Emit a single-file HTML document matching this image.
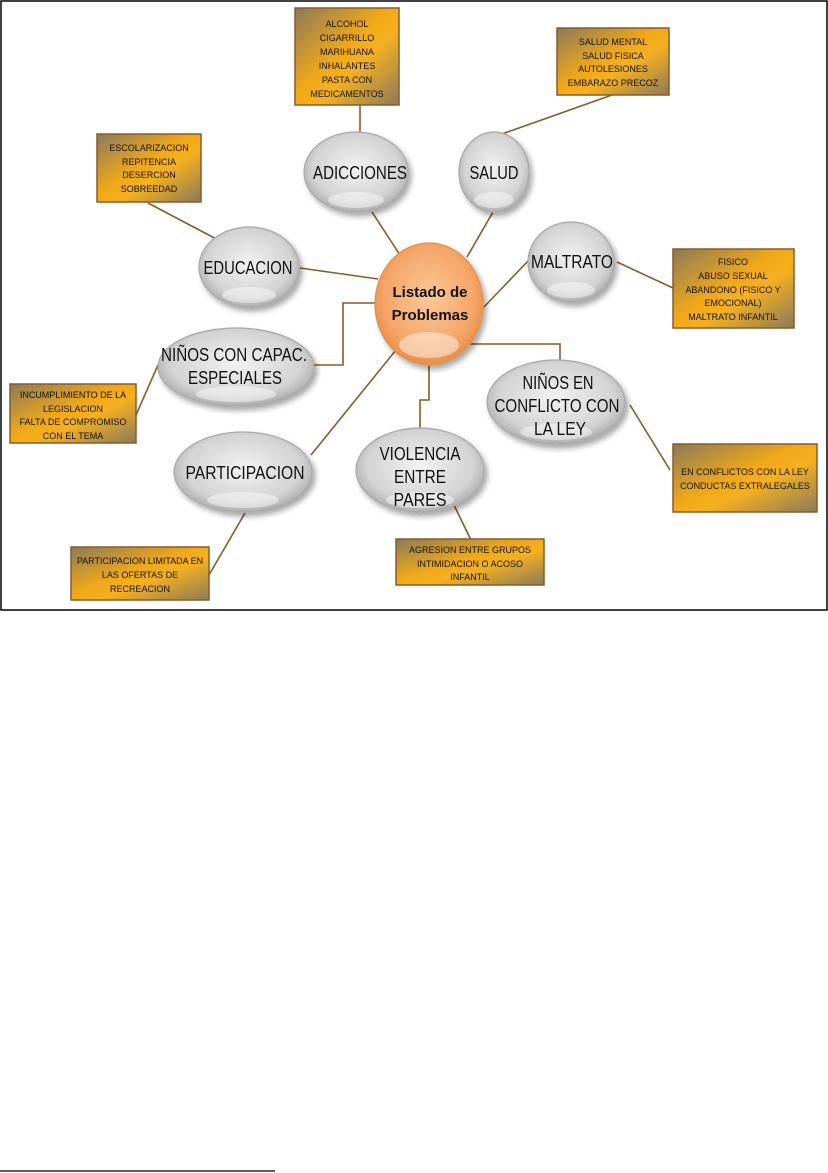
<!DOCTYPE html>
<html><head><meta charset="utf-8"><style>
html,body{margin:0;padding:0;background:#fff;width:828px;height:1173px;overflow:hidden}
svg{display:block}
text{font-family:"Liberation Sans",sans-serif}
</style></head><body>
<svg width="828" height="1173" viewBox="0 0 828 1173" xmlns="http://www.w3.org/2000/svg">
<defs>
<linearGradient id="box" x1="0" y1="0" x2="1" y2="1">
<stop offset="0" stop-color="#8a7a5a"/><stop offset="0.45" stop-color="#f0a818"/><stop offset="0.6" stop-color="#f5b020"/><stop offset="1" stop-color="#8a7a5a"/>
</linearGradient>
<radialGradient id="grey" cx="0.5" cy="0.45" r="0.6">
<stop offset="0" stop-color="#f2f2f2"/><stop offset="0.7" stop-color="#d3d3d3"/><stop offset="1" stop-color="#a0a0a0"/>
</radialGradient>
<radialGradient id="org" cx="0.5" cy="0.45" r="0.6">
<stop offset="0" stop-color="#fbc89a"/><stop offset="0.7" stop-color="#f5a567"/><stop offset="1" stop-color="#e08540"/>
</radialGradient>
<filter id="sh" x="-20%" y="-20%" width="150%" height="150%"><feGaussianBlur in="SourceAlpha" stdDeviation="3"/><feOffset dx="3" dy="4"/><feComponentTransfer><feFuncA type="linear" slope="0.35"/></feComponentTransfer><feMerge><feMergeNode/><feMergeNode in="SourceGraphic"/></feMerge></filter>
</defs>
<rect x="1" y="1" width="826" height="609" fill="#fff" stroke="#000" stroke-width="1.5"/>
<line x1="0" y1="1171" x2="275" y2="1171" stroke="#000" stroke-width="1.2"/>
<g stroke="#8b5a2b" stroke-width="1.6" fill="none">
<line x1="360" y1="105" x2="360" y2="133"/>
<line x1="372" y1="212" x2="400" y2="255"/>
<line x1="612" y1="95" x2="502" y2="134"/>
<line x1="493" y1="212" x2="467" y2="257"/>
<line x1="148" y1="203" x2="222" y2="242"/>
<line x1="300" y1="268" x2="378" y2="279"/>
<line x1="528" y1="261" x2="484" y2="307"/>
<line x1="617" y1="262" x2="673" y2="288"/>
<polyline points="375,303 343,303 343,365 312,365"/>
<line x1="136" y1="415" x2="158" y2="365"/>
<line x1="400" y1="345" x2="311" y2="455"/>
<line x1="245" y1="513" x2="209" y2="575"/>
<polyline points="429,365 429,400 420,400 420,440"/>
<line x1="453" y1="503" x2="471" y2="540"/>
<polyline points="457,344 560,344 560,372"/>
<line x1="630" y1="405" x2="670" y2="470"/>
</g>
<g filter="url(#sh)" stroke="#a8a8a8" stroke-width="1.2">
<ellipse cx="356" cy="172" rx="52" ry="40" fill="url(#grey)"/>
<ellipse cx="494" cy="172" rx="35" ry="40" fill="url(#grey)"/>
<ellipse cx="249" cy="267" rx="50" ry="40" fill="url(#grey)"/>
<ellipse cx="571" cy="262" rx="43" ry="40" fill="url(#grey)"/>
<ellipse cx="236" cy="367" rx="78" ry="39" fill="url(#grey)"/>
<ellipse cx="243" cy="472" rx="69" ry="40" fill="url(#grey)"/>
<ellipse cx="420" cy="470" rx="64" ry="42" fill="url(#grey)"/>
<ellipse cx="556" cy="402" rx="69" ry="42" fill="url(#grey)"/>
<ellipse cx="429" cy="304" rx="54" ry="61" fill="url(#org)" stroke="#e09050"/>
</g>
<g fill="#fff" opacity="0.45">
<ellipse cx="356" cy="200" rx="28" ry="8"/><ellipse cx="494" cy="200" rx="20" ry="8"/><ellipse cx="249" cy="295" rx="27" ry="8"/><ellipse cx="571" cy="290" rx="24" ry="8"/><ellipse cx="236" cy="394" rx="40" ry="8"/><ellipse cx="243" cy="500" rx="36" ry="8"/><ellipse cx="420" cy="500" rx="34" ry="8"/><ellipse cx="556" cy="432" rx="36" ry="8"/><ellipse cx="429" cy="345" rx="30" ry="13"/>
</g>
<g font-size="18" fill="#111" text-anchor="middle" lengthAdjust="spacingAndGlyphs">
<text x="360" y="179" textLength="94" lengthAdjust="spacingAndGlyphs">ADICCIONES</text>
<text x="494" y="179" textLength="49" lengthAdjust="spacingAndGlyphs">SALUD</text>
<text x="248" y="274" textLength="89" lengthAdjust="spacingAndGlyphs">EDUCACION</text>
<text x="572" y="268" textLength="82" lengthAdjust="spacingAndGlyphs">MALTRATO</text>
<text x="234" y="361" textLength="146" lengthAdjust="spacingAndGlyphs">NIÑOS CON CAPAC.</text>
<text x="235" y="384" textLength="94" lengthAdjust="spacingAndGlyphs">ESPECIALES</text>
<text x="245" y="479" textLength="119" lengthAdjust="spacingAndGlyphs">PARTICIPACION</text>
<text x="420" y="460" textLength="81" lengthAdjust="spacingAndGlyphs">VIOLENCIA</text>
<text x="420" y="483" textLength="52" lengthAdjust="spacingAndGlyphs">ENTRE</text>
<text x="420" y="506" textLength="53" lengthAdjust="spacingAndGlyphs">PARES</text>
<text x="558" y="389" textLength="71" lengthAdjust="spacingAndGlyphs">NIÑOS EN</text>
<text x="557" y="412" textLength="125" lengthAdjust="spacingAndGlyphs">CONFLICTO CON</text>
<text x="560" y="435" textLength="52" lengthAdjust="spacingAndGlyphs">LA LEY</text>
<text x="430" y="297" font-weight="bold" font-size="15">Listado de</text>
<text x="430" y="320" font-weight="bold" font-size="15">Problemas</text>
</g>
<g stroke="#8b5a2b" stroke-width="1.5" fill="url(#box)">
<rect x="295" y="8" width="104" height="97"/>
<rect x="557" y="28" width="112" height="67"/>
<rect x="97" y="134" width="104" height="68"/>
<rect x="673" y="249" width="121" height="79"/>
<rect x="10" y="384" width="126" height="59"/>
<rect x="673" y="444" width="144" height="68"/>
<rect x="71" y="547" width="138" height="53"/>
<rect x="396" y="539" width="148" height="46"/>
</g>
<g font-size="9" fill="#111" text-anchor="middle">
<text x="347" y="27">ALCOHOL</text><text x="347" y="41">CIGARRILLO</text><text x="347" y="55">MARIHUANA</text><text x="347" y="69">INHALANTES</text><text x="347" y="83">PASTA CON</text><text x="347" y="97">MEDICAMENTOS</text>
<text x="613" y="45">SALUD MENTAL</text><text x="613" y="59">SALUD FISICA</text><text x="613" y="72">AUTOLESIONES</text><text x="613" y="86">EMBARAZO PRECOZ</text>
<text x="149" y="151">ESCOLARIZACION</text><text x="149" y="165">REPITENCIA</text><text x="149" y="178">DESERCION</text><text x="149" y="192">SOBREEDAD</text>
<text x="733" y="265">FISICO</text><text x="733" y="279">ABUSO SEXUAL</text><text x="733" y="293">ABANDONO (FISICO Y</text><text x="733" y="306">EMOCIONAL)</text><text x="733" y="320">MALTRATO INFANTIL</text>
<text x="73" y="398">INCUMPLIMIENTO DE LA</text><text x="73" y="412">LEGISLACION</text><text x="73" y="425">FALTA DE COMPROMISO</text><text x="73" y="439">CON EL TEMA</text>
<text x="745" y="475">EN CONFLICTOS CON LA LEY</text><text x="745" y="489">CONDUCTAS EXTRALEGALES</text>
<text x="140" y="564">PARTICIPACION LIMITADA EN</text><text x="140" y="578">LAS OFERTAS DE</text><text x="140" y="592">RECREACION</text>
<text x="470" y="553">AGRESION ENTRE GRUPOS</text><text x="470" y="567">INTIMIDACION O ACOSO</text><text x="470" y="580">INFANTIL</text>
</g>
</svg>
</body></html>
